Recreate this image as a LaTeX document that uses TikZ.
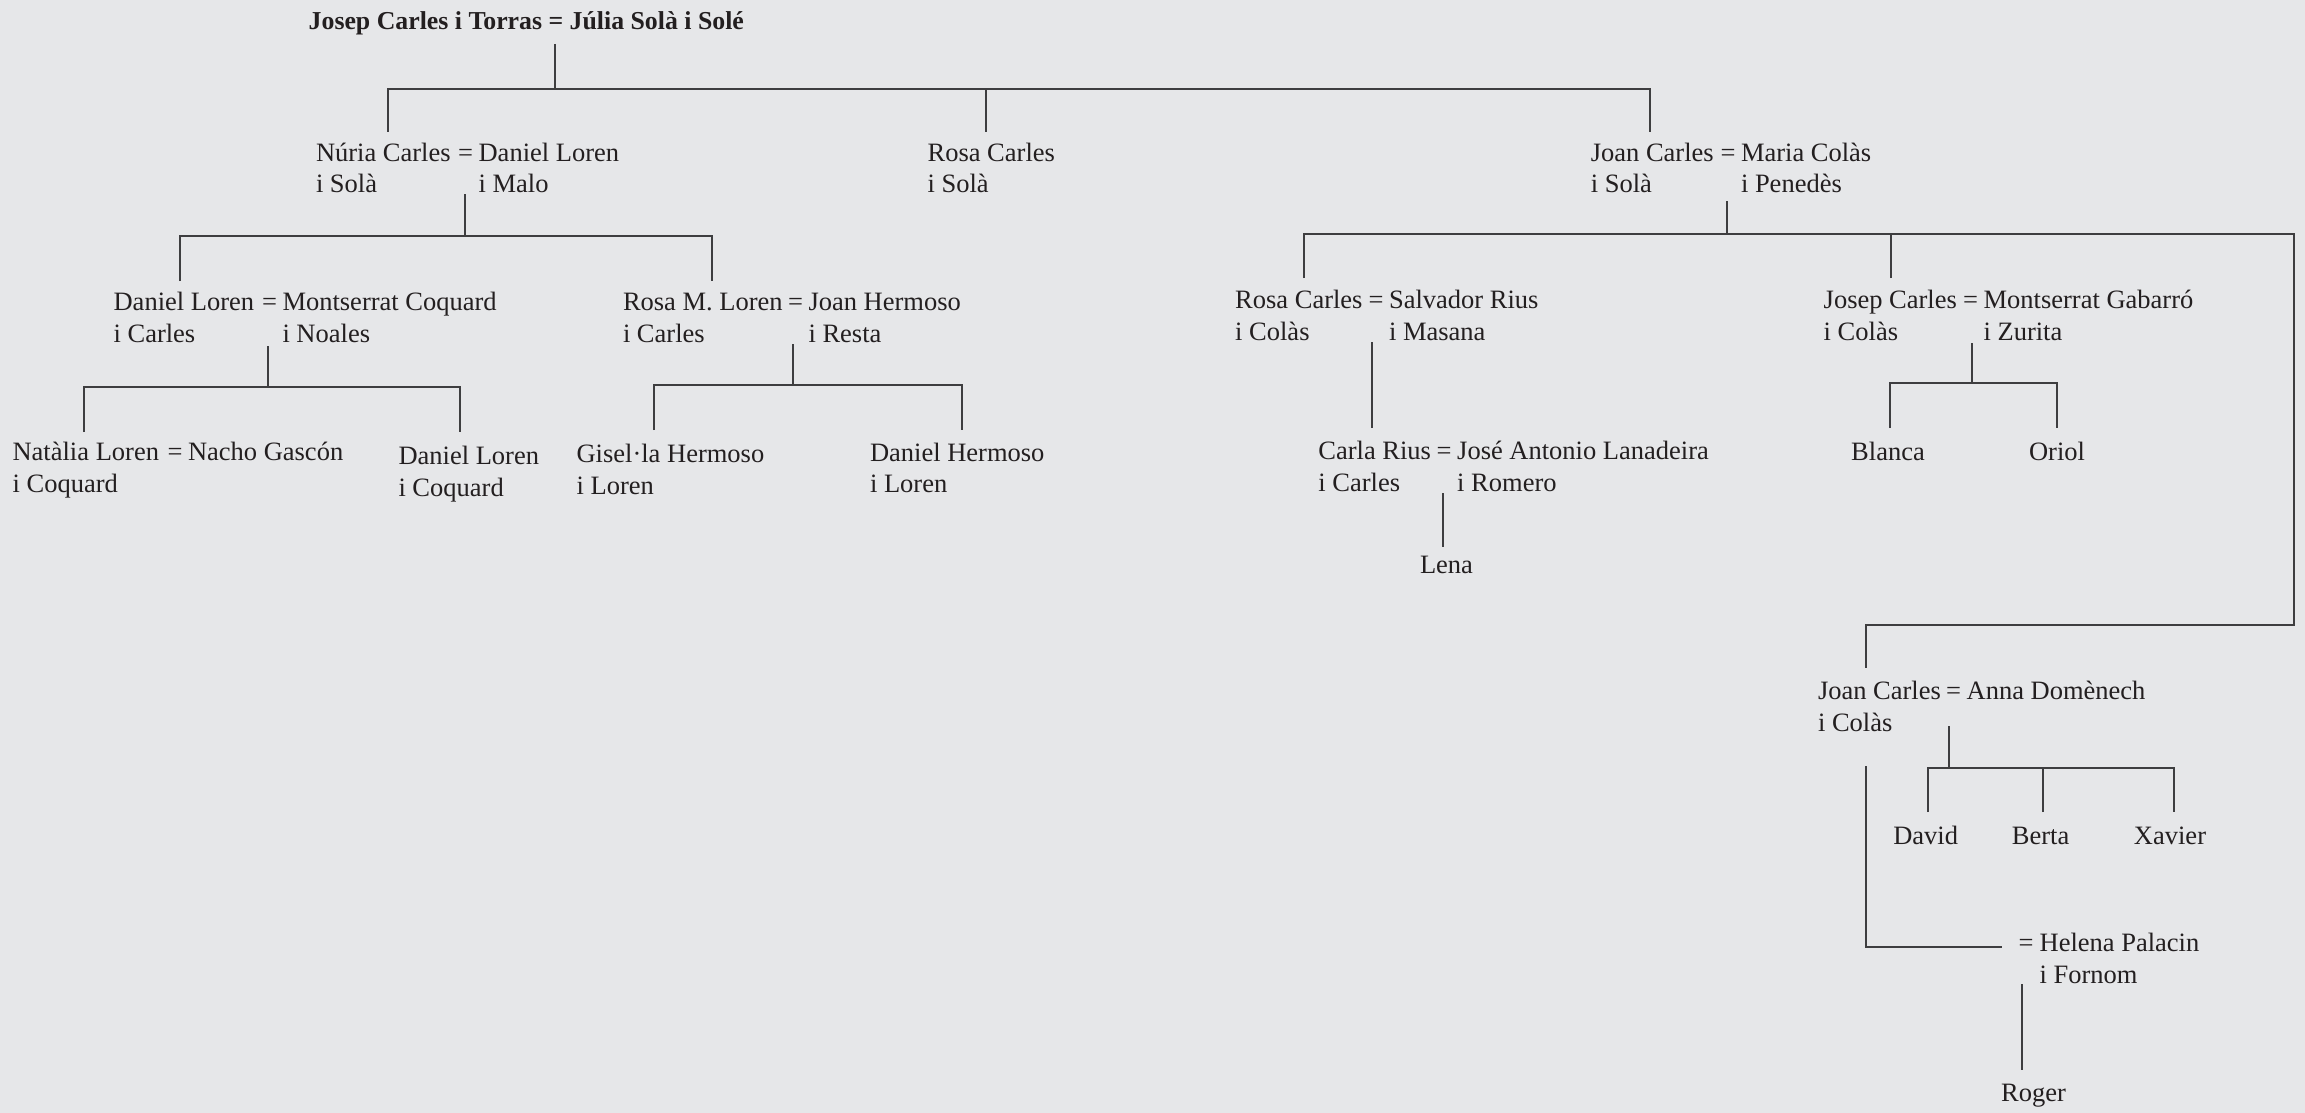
\documentclass[tikz,border=0pt]{standalone}
\usepackage{fontspec}
\setmainfont{Liberation Serif}
\definecolor{bgc}{HTML}{E6E7E9}
\definecolor{ink}{HTML}{231F20}
\definecolor{linec}{HTML}{3E3E40}
\newcommand\famtxt{\fontsize{26.5}{32}\selectfont}
\newcommand\famttl{\fontsize{25.8}{32}\selectfont\bfseries}
\tikzset{
  txt/.style={anchor=base west, inner sep=0pt, outer sep=0pt, font=\famtxt, text=ink},
  ctr/.style={anchor=base, inner sep=0pt, outer sep=0pt, font=\famtxt, text=ink},
  eqs/.style={anchor=base, inner sep=0pt, outer sep=0pt, font=\famtxt, text=ink},
  link/.style={draw=linec, line width=2pt},
}
\begin{document}
\begin{tikzpicture}[x=1pt,y=-1pt]
\fill[bgc] (0,0) rectangle (2305,1113);
\useasboundingbox (0,0) rectangle (2305,1113);

% ---------- texts ----------
\node[txt, font=\famttl] (title) at (308.7,30) {Josep Carles i Torras = Júlia Solà i Solé};

% level 2
\node[txt] (nuria) at (316,161) {Núria Carles};
\node[txt] (nuria2) at (316,192) {i Solà};
\node[txt] (danL) at (478.6,161) {Daniel Loren};
\node[txt] (danL2) at (478.6,192) {i Malo};
\node[eqs] (eq1) at ([xshift=-13pt]danL.base west) {=};
\node[txt] (rosaS) at (927.6,161) {Rosa Carles};
\node[txt] (rosaS2) at (927.6,192) {i Solà};
\node[txt] (joanS) at (1590.8,161) {Joan Carles};
\node[txt] (joanS2) at (1590.8,192) {i Solà};
\node[txt] (maria) at (1741,161) {Maria Colàs};
\node[txt] (maria2) at (1741,192) {i Penedès};
\node[eqs] (eq2) at ([xshift=-13pt]maria.base west) {=};

% level 3
\node[txt] (danC) at (113.6,310.5) {Daniel Loren};
\node[txt] (danC2) at (113.6,342.5) {i Carles};
\node[txt] (montC) at (282.5,310.5) {Montserrat Coquard};
\node[txt] (montC2) at (282.5,342.5) {i Noales};
\node[eqs] (eq3) at ([xshift=-13pt]montC.base west) {=};
\node[txt] (rosaM) at (623,310.5) {Rosa M. Loren};
\node[txt] (rosaM2) at (623,342.5) {i Carles};
\node[txt] (joanH) at (808.5,310.5) {Joan Hermoso};
\node[txt] (joanH2) at (808.5,342.5) {i Resta};
\node[eqs] (eq4) at ([xshift=-13pt]joanH.base west) {=};
\node[txt] (rosaC) at (1235.2,308.5) {Rosa Carles};
\node[txt] (rosaC2) at (1235.2,340.5) {i Colàs};
\node[txt] (salv) at (1389,308.5) {Salvador Rius};
\node[txt] (salv2) at (1389,340.5) {i Masana};
\node[eqs] (eq5) at ([xshift=-13pt]salv.base west) {=};
\node[txt] (josC) at (1823.7,308.5) {Josep Carles};
\node[txt] (josC2) at (1823.7,340.5) {i Colàs};
\node[txt] (montG) at (1983.6,308.5) {Montserrat Gabarró};
\node[txt] (montG2) at (1983.6,340.5) {i Zurita};
\node[eqs] (eq6) at ([xshift=-13pt]montG.base west) {=};

% level 4
\node[txt] (nata) at (12.6,460.5) {Natàlia Loren};
\node[txt] (nata2) at (12.6,492.5) {i Coquard};
\node[txt] (nacho) at (188,460.5) {Nacho Gascón};
\node[eqs] (eq7) at ([xshift=-13pt]nacho.base west) {=};
\node[txt] (danCo) at (398.5,464) {Daniel Loren};
\node[txt] (danCo2) at (398.5,496) {i Coquard};
\node[txt] (gise) at (576.6,462.5) {Gisel·la Hermoso};
\node[txt] (gise2) at (576.6,494) {i Loren};
\node[txt] (danH) at (870,461) {Daniel Hermoso};
\node[txt] (danH2) at (870,492.5) {i Loren};
\node[txt] (carla) at (1318.4,459) {Carla Rius};
\node[txt] (carla2) at (1318.4,491) {i Carles};
\node[txt] (jose) at (1457.2,459) {José Antonio Lanadeira};
\node[txt] (jose2) at (1457.2,491) {i Romero};
\node[eqs] (eq8) at ([xshift=-13pt]jose.base west) {=};
\node[ctr] (blanca) at (1888,460) {Blanca};
\node[ctr] (oriol) at (2057,460) {Oriol};
\node[txt] (lena) at (1420,573) {Lena};

% level 5
\node[txt] (joanC) at (1818,699) {Joan Carles};
\node[txt] (joanC2) at (1818,731) {i Colàs};
\node[txt] (anna) at (1966.6,699) {Anna Domènech};
\node[eqs] (eq9) at ([xshift=-13pt]anna.base west) {=};
\node[ctr] (david) at (1925.7,844) {David};
\node[ctr] (berta) at (2040.6,844) {Berta};
\node[ctr] (xavier) at (2170,844) {Xavier};
\node[txt] (helena) at (2039.6,951) {Helena Palacin};
\node[txt] (helena2) at (2039.6,983) {i Fornom};
\node[eqs] (eq10) at ([xshift=-13.5pt]helena.base west) {=};
\node[ctr] (roger) at (2033.5,1101) {Roger};

% ---------- connectors ----------
% top family
\coordinate (a0) at (555,44);
\coordinate (a1) at (555,89);
\coordinate (a2) at (388,132);
\coordinate (a3) at (986,132);
\coordinate (a4) at (1650,132);
\draw[link] (a0) -- (a1);
\draw[link] (a2) |- (a1) -| (a4);
\draw[link] (a3) -- (a3 |- a1);

% Nuria + Daniel
\coordinate (b0) at (465,194);
\coordinate (b1) at (465,236);
\coordinate (b2) at (180,281);
\coordinate (b3) at (712,281);
\draw[link] (b0) -- (b1);
\draw[link] (b2) |- (b1) -| (b3);

% Joan + Maria
\coordinate (c0) at (1727,201);
\coordinate (c1) at (1727,234);
\coordinate (c2) at (1304,278);
\coordinate (c3) at (1891,278);
\coordinate (c4) at (2294,625);
\coordinate (c5) at (1866,668);
\draw[link] (c0) -- (c1);
\draw[link] (c2) |- (c1) -| (c4) -| (c5);
\draw[link] (c3) -- (c3 |- c1);

% Daniel + Montserrat Coquard
\coordinate (d0) at (268,346);
\coordinate (d1) at (268,387);
\coordinate (d2) at (84,432);
\coordinate (d3) at (460,432);
\draw[link] (d0) -- (d1);
\draw[link] (d2) |- (d1) -| (d3);

% Rosa M. + Joan Hermoso
\coordinate (e0) at (793,344);
\coordinate (e1) at (793,385);
\coordinate (e2) at (654,430);
\coordinate (e3) at (962,430);
\draw[link] (e0) -- (e1);
\draw[link] (e2) |- (e1) -| (e3);

% Rosa Carles + Salvador
\coordinate (f0) at (1372,342);
\coordinate (f1) at (1372,428);
\draw[link] (f0) -- (f1);

% Josep + Montserrat Gabarro
\coordinate (g0) at (1972,343);
\coordinate (g1) at (1972,383);
\coordinate (g2) at (1890,428);
\coordinate (g3) at (2057,428);
\draw[link] (g0) -- (g1);
\draw[link] (g2) |- (g1) -| (g3);

% Carla + Jose
\coordinate (h0) at (1443,493);
\coordinate (h1) at (1443,547);
\draw[link] (h0) -- (h1);

% Joan + Anna
\coordinate (i0) at (1949,726);
\coordinate (i1) at (1949,768);
\coordinate (i2) at (1928,812);
\coordinate (i3) at (2043,812);
\coordinate (i4) at (2174,812);
\draw[link] (i0) -- (i1);
\draw[link] (i2) |- (i1) -| (i4);
\draw[link] (i3) -- (i3 |- i1);

% second marriage
\coordinate (k0) at (1866,766);
\coordinate (k1) at (2002,947);
\draw[link] (k0) |- (k1);

% Roger
\coordinate (l0) at (2022,984);
\coordinate (l1) at (2022,1070);
\draw[link] (l0) -- (l1);
\end{tikzpicture}
\end{document}
